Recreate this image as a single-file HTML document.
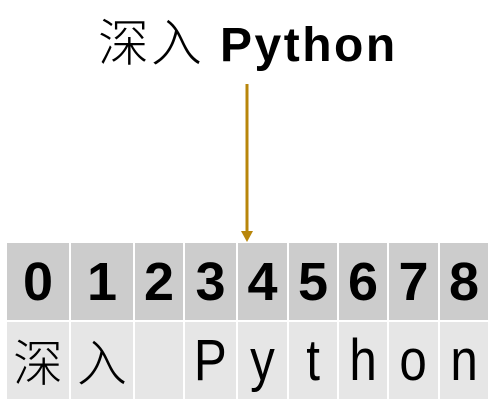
<!DOCTYPE html>
<html><head><meta charset="utf-8"><style>
body{margin:0;width:499px;height:406px;background:#fff;position:relative;overflow:hidden;font-family:"Liberation Sans","Noto Sans CJK SC",sans-serif;}
.c{position:absolute;display:flex;justify-content:center;color:#000;}
.t{top:243px;height:77px;background:#cccccc;font-weight:bold;font-size:54px;line-height:79px;}
.b{top:322px;height:77px;background:#e6e6e6;font-size:58px;line-height:77px;}
.b span{display:inline-block;transform:scaleX(0.85);}
.cjk{font-family:"Noto Sans CJK SC",sans-serif;font-weight:300;}
</style></head><body>
<div style="position:absolute;left:98px;top:4px;white-space:nowrap;">
<span class="cjk" style="font-size:51px;line-height:70px;letter-spacing:2px">深入</span><span style="font-size:48px;font-weight:bold;line-height:70px;letter-spacing:2.5px;margin-left:16px">Python</span>
</div>
<svg style="position:absolute;left:0;top:0" width="499" height="406">
<line x1="247" y1="84" x2="247" y2="232" stroke="#b8860b" stroke-width="3"/>
<polygon points="241,231 253,231 247,242" fill="#b8860b"/>
</svg>
<div class="c t" style="left:7px;width:62px">0</div>
<div class="c t" style="left:71px;width:62px">1</div>
<div class="c t" style="left:135px;width:48px">2</div>
<div class="c t" style="left:185px;width:51px">3</div>
<div class="c t" style="left:238px;width:49px">4</div>
<div class="c t" style="left:289px;width:48px">5</div>
<div class="c t" style="left:339px;width:48px">6</div>
<div class="c t" style="left:389px;width:49px">7</div>
<div class="c t" style="left:440px;width:48px">8</div>
<div class="c b cjk" style="left:7px;width:62px;font-size:50px">深</div>
<div class="c b cjk" style="left:71px;width:62px;font-size:50px">入</div>
<div class="c b" style="left:135px;width:48px"></div>
<div class="c b" style="left:185px;width:51px"><span>P</span></div>
<div class="c b" style="left:238px;width:49px"><span>y</span></div>
<div class="c b" style="left:289px;width:48px"><span>t</span></div>
<div class="c b" style="left:339px;width:48px"><span>h</span></div>
<div class="c b" style="left:389px;width:49px"><span>o</span></div>
<div class="c b" style="left:440px;width:48px"><span>n</span></div>
</body></html>
